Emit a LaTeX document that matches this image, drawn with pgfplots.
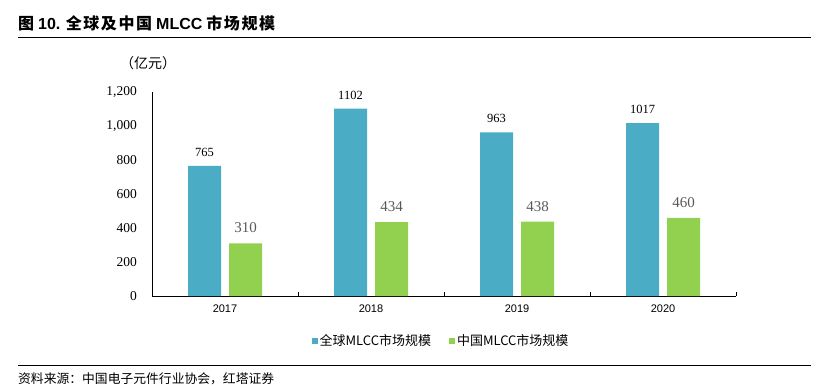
\documentclass[border=0pt]{standalone}
\usepackage{pgfplots}
\pgfplotsset{compat=1.18}
\usepackage{fontspec}
\setmainfont{Liberation Serif}
\newfontfamily\cjk{Noto Sans CJK SC}
\newfontfamily\cjkwide{Noto Sans CJK SC}[LetterSpace=10]
\newfontfamily\sans{Liberation Sans}
\definecolor{cblue}{HTML}{4BACC6}
\definecolor{cgreen}{HTML}{92D050}
\definecolor{lblgray}{HTML}{595959}
\begin{document}
\begin{tikzpicture}
\useasboundingbox (0,0) rectangle (829bp,-390bp);
\node[anchor=west, inner sep=0pt] at (18bp,-23bp) {\fontsize{16bp}{18bp}\selectfont\bfseries{\cjkwide 图} {\sans 10.} {\cjkwide 全球及中国} {\sans MLCC} {\cjkwide 市场规模}};
\draw[line width=0.8bp] (18bp,-37.5bp) -- (811bp,-37.5bp);
\node[inner sep=0pt] at (148bp,-63bp) {\cjk\fontsize{14bp}{16bp}\selectfont （亿元）};
\draw[line width=0.6bp] (18bp,-365bp) -- (811bp,-365bp);
\node[anchor=west, inner sep=0pt] at (18bp,-379bp) {\cjk\fontsize{12.8bp}{14bp}\selectfont 资料来源：中国电子元件行业协会，红塔证券};
\begin{axis}[
  at={(152bp,-296bp)}, anchor=south west,
  scale only axis, width=584bp, height=204bp,
  ybar, bar width=33bp,
  xmin=-0.5, xmax=3.5, ymin=0, ymax=1200,
  axis x line*=bottom, axis y line*=left,
  axis line style={line width=0.9bp, black},
  xtick={0,1,2,3}, xticklabels={2017,2018,2019,2020},
  major x tick style={draw=none},
  minor xtick={-0.5,0.5,1.5,2.5,3.5},
  minor tick length=4bp, minor x tick style={line width=0.9bp, black},
  tick align=inside,
  ytick={0,200,400,600,800,1000,1200},
  yticklabels={0,200,400,600,800,{1,000},{1,200}},
  major y tick style={draw=none},
  yticklabel style={font=\fontsize{13.5bp}{15bp}\selectfont, inner sep=0pt, xshift=-15bp},
  xticklabel style={font=\sans\fontsize{11bp}{13bp}\selectfont, inner sep=0pt, yshift=-9bp, anchor=north},
  /pgf/number format/assume math mode=true,
  /pgf/number format/1000 sep={},
  legend style={at={(0.495,-0.2206)}, anchor=center, draw=none, legend columns=2,
    font=\cjk\fontsize{13bp}{15bp}\selectfont,
    /tikz/every even column/.append style={column sep=16bp}},
  legend image code/.code={\fill[#1] (0bp,-3bp) rectangle (6bp,3bp);},
  clip=false,
]
\addplot[bar shift=-20.5bp, fill=cblue, draw=none,
  nodes near coords,
  every node near coord/.append style={font=\fontsize{12.5bp}{14bp}\selectfont, text=black, anchor=south, inner sep=0pt, yshift=9bp}]
  coordinates {(0,765) (1,1102) (2,963) (3,1017)};
\addlegendentry{全球MLCC市场规模}
\addplot[bar shift=20.5bp, fill=cgreen, draw=none,
  nodes near coords,
  every node near coord/.append style={font=\fontsize{15bp}{17bp}\selectfont, text=lblgray, anchor=south, inner sep=0pt, yshift=10bp}]
  coordinates {(0,310) (1,434) (2,438) (3,460)};
\addlegendentry{中国MLCC市场规模}
\end{axis}
\end{tikzpicture}
\end{document}
